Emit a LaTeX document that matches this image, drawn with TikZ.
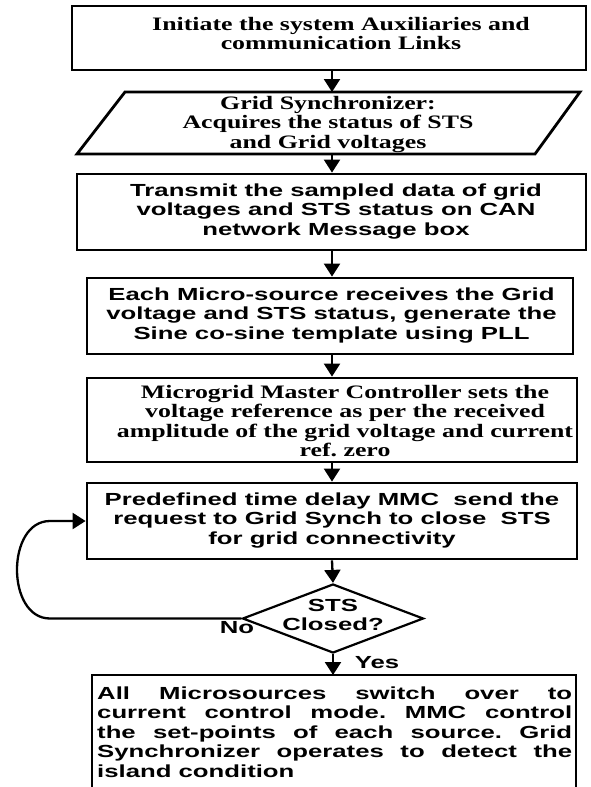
\documentclass[tikz,border=0pt]{standalone}
\usepackage{fontspec}
\usetikzlibrary{arrows.meta,shapes.geometric}
\newfontfamily\sansw[FakeStretch=1.47]{Liberation Sans}
\newfontfamily\serifw[FakeStretch=1.36]{Liberation Serif}
\newcommand\sanstxt{\sansw\bfseries\fontsize{17.5}{19.6}\selectfont\frenchspacing}
\newcommand\seriftxt{\serifw\bfseries\fontsize{19}{19.6}\selectfont\frenchspacing}
\tikzset{
  box/.style={draw, line width=2.8pt, inner sep=0pt},
  conn/.style={line width=2.3pt, -{Triangle[length=13pt,width=16pt]}},
  txt/.style={anchor=base, inner sep=0pt},
  stxt/.style={txt, font=\sanstxt},
  rtxt/.style={txt, font=\seriftxt},
}
\begin{document}
\begin{tikzpicture}[x=1pt,y=-1pt]
\clip (0,0) rectangle (590,787);
\fill[white] (0,0) rectangle (590,787);
\coordinate (ax) at (332,0);
% boxes
\node[box, minimum width=514pt, minimum height=64pt] (b1) at (329,38) {};
\draw[box] (125,92) -- (580,92) -- (535,154) -- (77,154) -- cycle;
\coordinate (ptop) at (332,92);
\coordinate (pbot) at (332,154);
\node[box, minimum width=509pt, minimum height=76pt] (b3) at (331.5,212) {};
\node[box, minimum width=486pt, minimum height=76pt] (b4) at (330,316) {};
\node[box, minimum width=490pt, minimum height=84pt] (b5) at (332,420) {};
\node[box, minimum width=490pt, minimum height=76pt] (b6) at (332,521) {};
\node[diamond, draw, line width=2.2pt, minimum width=181pt, minimum height=69pt, inner sep=0pt] (dia) at (333,618.5) {};
\draw[box] (92,800) -- (92,675) -- (576,675) -- (576,800);
\coordinate (bbtop) at (333,675);
% texts
\node[rtxt] (t1) at (341,30) {\begin{tabular}[t]{c}Initiate the system Auxiliaries and\\communication Links\end{tabular}};
\node[rtxt] (t2) at (328,109) {\begin{tabular}[t]{c}Grid Synchronizer:\\Acquires the status of STS\\and Grid voltages\end{tabular}};
\node[stxt] (t3) at (336,196) {\begin{tabular}[t]{c}Transmit the sampled data of grid\\voltages and STS status on CAN\\network Message box\end{tabular}};
\node[stxt] (t4) at (331.5,300) {\begin{tabular}[t]{c}Each Micro-source receives the Grid\\voltage and STS status, generate the\\Sine co-sine template using PLL\end{tabular}};
\node[rtxt] (t5) at (345,398) {\begin{tabular}[t]{c}Microgrid Master Controller sets the\\voltage reference as per the received\\amplitude of the grid voltage and current\\ref. zero\end{tabular}};
\node[stxt] (t6) at (332,505) {\begin{tabular}[t]{c}Predefined time delay MMC\ \ send the\\request to Grid Synch to close\ \ STS\\for grid connectivity\end{tabular}};
\node[stxt] (td) at (333,611) {\begin{tabular}[t]{c}STS\\Closed?\end{tabular}};
\node[stxt, anchor=base west] (tb) at (97,699) {\begin{tabular}[t]{@{}l@{}}\makebox[475pt][s]{All Microsources switch over to}\\\makebox[475pt][s]{current control mode. MMC control}\\\makebox[475pt][s]{the set-points of each source. Grid}\\\makebox[475pt][s]{Synchronizer operates to detect the}\\island condition\end{tabular}};
\node[stxt] (no) at (237,633) {No};
\node[stxt] (yes) at (377,668) {Yes};
% connectors
\draw[conn] (b1.south -| ax) -- (ptop);
\draw[conn] (pbot) -- (b3.north -| ax);
\draw[conn] (b3.south -| ax) -- (b4.north -| ax);
\draw[conn] (b4.south -| ax) -- (b5.north -| ax);
\draw[conn] (b5.south -| ax) -- (b6.north -| ax);
\draw[conn] (b6.south -| ax) -- (dia.north);
\draw[conn] (dia.south) -- (bbtop);
\draw[conn] (dia.west) -- (50,618.5) .. controls (6,618.5) and (6,521) .. (50,521) -- (b6.west);
\end{tikzpicture}
\end{document}
